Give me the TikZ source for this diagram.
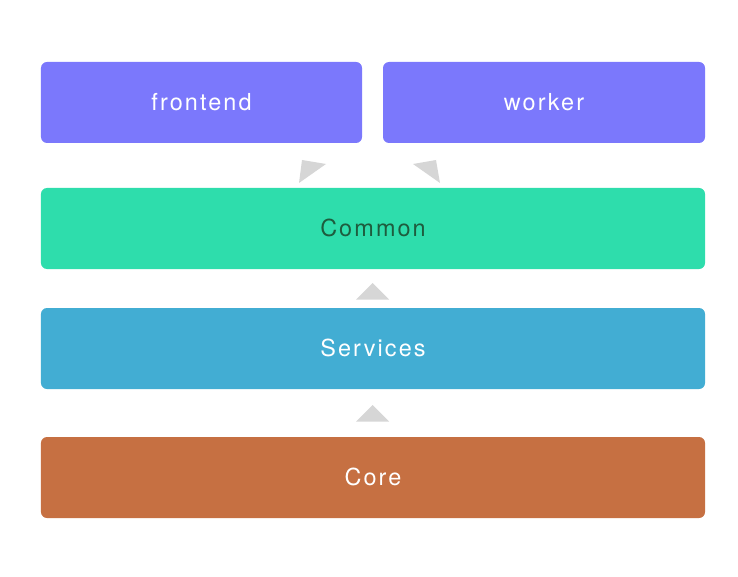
\documentclass[tikz,border=0pt]{standalone}
\usepackage{fontspec}
\newfontfamily\lblfont{TeX Gyre Heros}[LetterSpace=9]
\definecolor{cpurple}{RGB}{123,120,252}
\definecolor{cgreen}{RGB}{46,221,172}
\definecolor{cblue}{RGB}{66,173,211}
\definecolor{corange}{RGB}{198,112,66}
\definecolor{cdark}{RGB}{30,92,62}
\definecolor{carrow}{RGB}{214,214,214}
\newcommand{\lift}[1]{\raisebox{1.8bp}{#1}}
\begin{document}
\begin{tikzpicture}[x=1bp,y=-1bp,
  layer/.style={rounded corners=6bp, inner sep=0pt, font=\lblfont\fontsize{23.5}{28}\selectfont, text=white},
  tri/.style={fill=carrow, draw=none}]
\useasboundingbox (0,0) rectangle (738,577);
\node[layer, fill=cpurple, minimum width=321bp, minimum height=81bp] (frontend) at (201.5,102.5) {\lift{frontend}};
\node[layer, fill=cpurple, minimum width=322bp, minimum height=81bp] (worker) at (544,102.5) {\lift{worker}};
\node[layer, fill=cgreen, text=cdark, minimum width=664bp, minimum height=81bp] (common) at (373,228.5) {\lift{Common}};
\node[layer, fill=cblue, minimum width=664bp, minimum height=81bp] (services) at (373,348.5) {\lift{Services}};
\node[layer, fill=corange, minimum width=664bp, minimum height=81bp] (core) at (373,477.5) {\lift{Core}};
\fill[tri] (299,183) -- (302,160) -- (326,164) -- cycle;
\fill[tri] (440,183) -- (436,160) -- (413,164) -- cycle;
\fill[tri] (356,299.5) -- (372.5,283) -- (389,299.5) -- cycle;
\fill[tri] (356,421.5) -- (372.5,405) -- (389,421.5) -- cycle;
\end{tikzpicture}
\end{document}
